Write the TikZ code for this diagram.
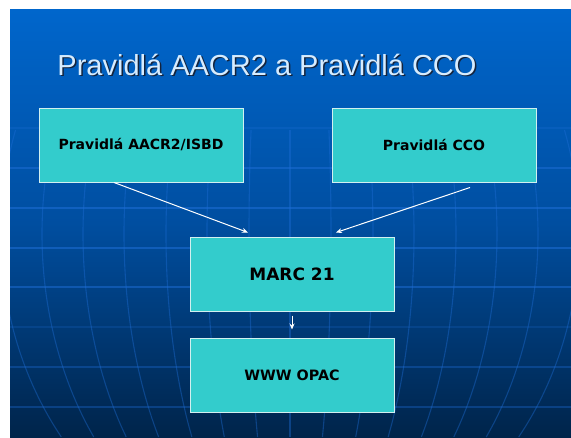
\documentclass[tikz,border=0pt]{standalone}
\usepackage{fontspec}
\setmainfont{Liberation Sans}
\newfontfamily\boxfont{DejaVu Sans}
\usetikzlibrary{arrows.meta,calc}
\definecolor{slidetop}{RGB}{0,102,204}
\definecolor{slidemid}{RGB}{0,78,160}
\definecolor{slidebot}{RGB}{0,36,74}
\definecolor{gridblue}{RGB}{30,110,215}
\definecolor{boxfill}{RGB}{51,204,204}
\definecolor{boxline}{RGB}{210,240,240}
\definecolor{titlecol}{RGB}{214,236,255}
\definecolor{titleshadow}{RGB}{20,35,60}
\begin{document}
\begin{tikzpicture}[x=1pt,y=-1pt,
  flowbox/.style={draw=boxline, line width=1pt, fill=boxfill, minimum width=204pt, minimum height=74pt, inner sep=0pt, text=black, font=\boxfont\bfseries\fontsize{14}{16}\selectfont},
  flowarrow/.style={draw=white, line width=1pt, -{Stealth[length=6pt,width=5pt]}},
  gridline/.style={draw=gridblue, line width=1.1pt}]
\useasboundingbox (0,0) rectangle (571,437);
\fill[white] (0,0) rectangle (571,437);
\shade[top color=slidetop, bottom color=slidebot, middle color=slidemid] (10,9) rectangle (571,437);
\begin{scope}
\clip (10,9) rectangle (571,437);
\foreach \yy/\op in {128/0.25,168/0.5,208/0.55,248/0.55,287/0.5,327/0.2,367/0.35,407/0.35}
  \draw[gridline, opacity=\op] (10,\yy) -- (571,\yy);
\foreach \d in {-289,-248,-207,-166,-124,-83,-41,0,41,83,124,166,207,248,289}
  \draw[gridline, opacity=0.4] plot[domain=130:437, variable=\t, samples=30, smooth] ({290+\d*sqrt(1-((\t-234)/332)^2)}, \t);
\end{scope}
\node[anchor=base, text=titleshadow, font=\fontsize{29}{34}\selectfont] at (268.5,76.5) {Pravidlá AACR2 a Pravidlá CCO};
\node[anchor=base, text=titlecol, font=\fontsize{29}{34}\selectfont] (title) at (267,75) {Pravidlá AACR2 a Pravidlá CCO};
\node[flowbox] (b1) at (141,145) {Pravidlá AACR2/ISBD};
\node[flowbox] (b2) at (434,145) {Pravidlá CCO};
\node[flowbox, font=\boxfont\bfseries\fontsize{17}{20}\selectfont] (marc) at (292,274) {MARC 21};
\node[flowbox, font=\boxfont\bfseries\fontsize{14.3}{16}\selectfont] (www) at (292,375) {WWW OPAC};
\draw[flowarrow] ([xshift=-27pt]b1.south) -- ([xshift=-44pt,yshift=4pt]marc.north);
\draw[flowarrow] ([xshift=36pt,yshift=-5pt]b2.south) -- ([xshift=44pt,yshift=4pt]marc.north);
\draw[flowarrow] ([yshift=-4pt]marc.south) -- ([yshift=8pt]www.north);
\end{tikzpicture}
\end{document}
